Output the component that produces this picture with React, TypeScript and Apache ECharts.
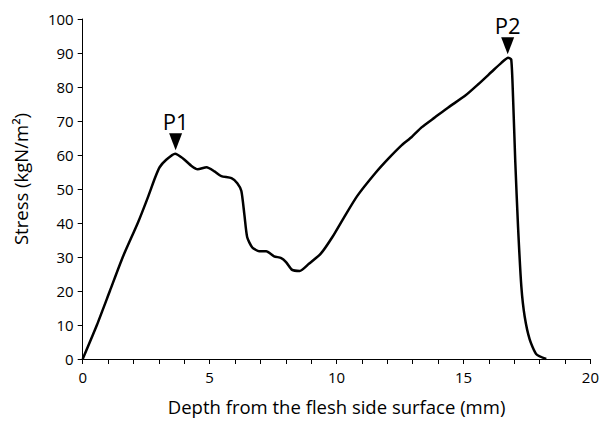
import React, { useEffect, useRef } from "react";
import * as echarts from "echarts";

const depth = [0, 0.56, 1.07, 1.58, 2.17, 2.56, 2.85, 3.03, 3.29, 3.64, 3.95, 4.3, 4.53, 4.88, 5.19, 5.46, 5.86, 6.09, 6.25, 6.37, 6.48, 6.68, 6.95, 7.23, 7.54, 7.82, 8.01, 8.25, 8.55, 8.91, 9.37, 9.83, 10.29, 10.81, 11.53, 12.05, 12.57, 12.96, 13.36, 13.88, 14.4, 15.06, 15.58, 16.1, 16.49, 16.76, 16.88, 16.95, 17.04, 17.15, 17.28, 17.41, 17.61, 17.87, 18.26];
const stress = [0, 10, 20, 30, 40, 47.4, 53.3, 56.4, 58.6, 60.4, 59, 56.7, 55.8, 56.4, 55.2, 53.8, 53.2, 51.7, 49.4, 42.4, 35.8, 32.8, 31.7, 31.7, 30.2, 29.7, 28.5, 26.2, 25.9, 28, 30.9, 35.8, 41.6, 47.9, 54.7, 59, 62.9, 65.3, 68.2, 71.1, 74, 77.4, 80.8, 84.4, 87.1, 88.6, 88.1, 77.4, 58, 38.7, 21.2, 12.5, 5.7, 1.4, 0];

const peakNames = ["P1", "P2"];
const peakDepth = [3.66, 16.74];
const peakStress = [60.4, 88.6];

const xTitle = "Depth from the flesh side surface (mm)";
const yTitle = "Stress (kgN/m\u00B2)";

const FONT = "'Open Sans', sans-serif";

export default function App() {
  const ref = useRef<HTMLDivElement>(null);
  useEffect(() => {
    if (!ref.current) return;
    const chart = echarts.init(ref.current, undefined, { renderer: "svg" });
    const data = depth.map((d, i) => [d, stress[i]]);
    chart.setOption({
      animation: false,
      textStyle: { fontFamily: FONT },
      grid: { left: 82.7, right: 9, top: 19, bottom: 58 },
      graphic: [
        {
          type: "text",
          x: 20,
          y: 179,
          rotation: Math.PI / 2,
          style: {
            text: yTitle,
            align: "center",
            verticalAlign: "middle",
            fontSize: 18.5,
            fontFamily: FONT,
            fill: "#000",
          },
        },
      ],
      xAxis: {
        type: "value",
        min: 0,
        max: 20,
        interval: 5,
        name: xTitle,
        nameLocation: "middle",
        nameGap: 38,
        nameTextStyle: { fontSize: 18.5, color: "#000", fontFamily: FONT },
        axisLine: { show: true, lineStyle: { color: "#000", width: 1 } },
        axisTick: { show: true, length: 5, lineStyle: { color: "#000" } },
        minorTick: { show: true, splitNumber: 5, length: 5, lineStyle: { color: "#000" } },
        splitLine: { show: false },
        axisLabel: { fontSize: 15, color: "#000", margin: 10, fontFamily: FONT },
      },
      yAxis: {
        type: "value",
        min: 0,
        max: 100,
        interval: 10,
        axisLine: { show: true, lineStyle: { color: "#000", width: 1 } },
        axisTick: { show: true, length: 5, lineStyle: { color: "#000" } },
        splitLine: { show: false },
        axisLabel: { fontSize: 15, color: "#000", margin: 9, fontFamily: FONT },
      },
      series: [
        {
          type: "line",
          data,
          symbol: "none",
          smooth: 0.2,
          lineStyle: { color: "#000", width: 2.5 },
          markPoint: {
            symbol: "triangle",
            symbolRotate: 180,
            symbolSize: [13, 17],
            symbolOffset: [0, -12],
            itemStyle: { color: "#000" },
            label: {
              show: true,
              position: "top",
              distance: 1,
              fontSize: 22,
              color: "#000",
              fontFamily: FONT,
              formatter: (p: any) => p.name,
            },
            data: peakNames.map((n, i) => ({ name: n, coord: [peakDepth[i], peakStress[i]] })),
          },
        },
      ],
    });
    return () => chart.dispose();
  }, []);
  return <div ref={ref} style={{ position: "absolute", left: 0, top: 0, width: 602, height: 421 }} />;
}
